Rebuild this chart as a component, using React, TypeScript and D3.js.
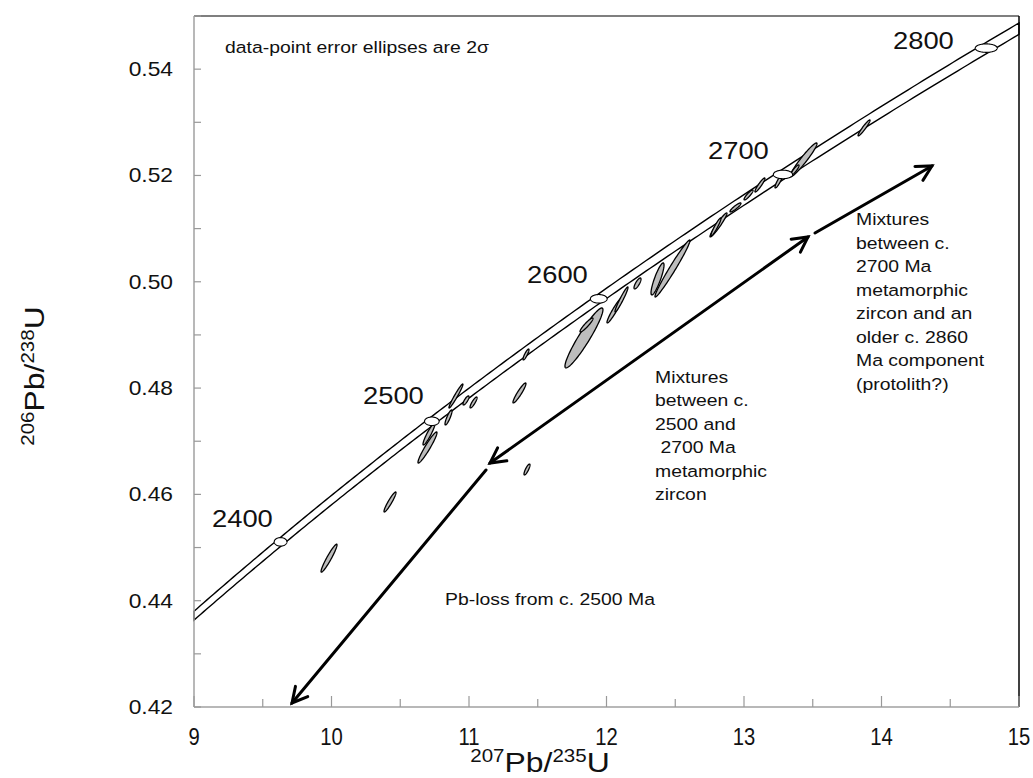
import React from 'react';
import * as d3 from 'd3';

const W = 1033;
const H = 778;

const xDomain = [9, 15];
const yDomain = [0.42, 0.55];
const xTickValues = [9, 10, 11, 12, 13, 14, 15];
const xMinorTickValues = [9.5, 10.5, 11.5, 12.5, 13.5, 14.5];
const yTickValues = [0.42, 0.44, 0.46, 0.48, 0.5, 0.52, 0.54];
const yMinorTickValues = [0.43, 0.45, 0.47, 0.49, 0.51, 0.53, 0.55];

// decay constants (per Ma)
const LAMBDA238 = 1.55125e-4;
const LAMBDA235 = 9.8485e-4;
const LAMBDA235_ERR = 0.0016;

const markerAges = [2400, 2500, 2600, 2700, 2800];

// data-point error ellipses (2 sigma)
const ellipseX = [9.982, 10.4255, 10.698, 10.709, 10.851, 10.905, 10.978, 11.033, 11.367, 11.4145, 11.4218,
  11.836, 11.8545, 12.058, 12.109, 12.2255, 12.371, 12.48,
  12.8145, 12.796, 12.938, 13.033, 13.116, 13.2545, 13.4327, 13.371, 13.873];
const ellipseY = [0.448, 0.45857, 0.46882, 0.47136, 0.47447, 0.47851, 0.47767, 0.47729, 0.47908, 0.48632, 0.46468,
  0.48943, 0.49187, 0.4946, 0.49667, 0.49968, 0.50053, 0.5025,
  0.51069, 0.51031, 0.51398, 0.51633, 0.51821, 0.51897, 0.52292, 0.52103, 0.52894];
const ellipseSigX = [0.058, 0.0436, 0.0691, 0.0436, 0.0255, 0.0509, 0.0218, 0.0255, 0.0473, 0.0218, 0.0218,
  0.1382, 0.0473, 0.0545, 0.0473, 0.0255, 0.0473, 0.1273,
  0.0618, 0.0364, 0.04, 0.0327, 0.0364, 0.0291, 0.0982, 0.0291, 0.0436];
const ellipseSigY = [0.00263, 0.00188, 0.00292, 0.00207, 0.00141, 0.00226, 0.00085, 0.00103, 0.00188, 0.00103, 0.00103,
  0.00564, 0.00132, 0.00235, 0.00235, 0.00103, 0.00301, 0.00536,
  0.00226, 0.00169, 0.00085, 0.00094, 0.00132, 0.00132, 0.0032, 0.00094, 0.0015];
const ellipseRho = [0.948, 0.937, 0.951, 0.925, 0.863, 0.969, 0.8, 0.861, 0.93, 0.87, 0.83,
  0.9395, 0.926, 0.95, 0.961, 0.79, 0.867, 0.98,
  0.958, 0.94, 0.9, 0.894, 0.93, 0.9, 0.959, 0.877, 0.95];

// arrows (data coordinates)
const arrowFromX = [11.1236, 11.1527, 13.516];
const arrowFromY = [0.46459, 0.4659, 0.50918];
const arrowToX = [9.7127, 13.4655, 14.367];
const arrowToY = [0.42075, 0.50843, 0.52179];
const arrowHeads = ['end', 'both', 'end'];

const noteLabel = 'data-point error ellipses are 2σ';
const mixText1 = ['Mixtures', 'between c.', '2500 and', '\u00a02700 Ma', 'metamorphic', 'zircon'];
const mixText2 = ['Mixtures', 'between c.', '2700 Ma', 'metamorphic', 'zircon and an', 'older c. 2860', 'Ma component', '(protolith?)'];
const pbLossText = 'Pb-loss from c. 2500 Ma';

const FONT = "'Liberation Sans', Arial, Helvetica, sans-serif";
const SX = 1.14;

const x = d3.scaleLinear().domain(xDomain).range([194, 1019]);
const y = d3.scaleLinear().domain(yDomain).range([707, 16]);

const line = d3.line<[number, number]>();

function ellipsePath(cx: number, cy: number, sx: number, sy: number, rho: number) {
  const r2 = Math.sqrt(1 - rho * rho);
  const pts: [number, number][] = d3.range(0, 97).map((i) => {
    const th = (i / 96) * Math.PI * 2;
    const dx = sx * Math.cos(th);
    const dy = sy * (rho * Math.cos(th) + r2 * Math.sin(th));
    return [x(cx + dx), y(cy + dy)];
  });
  return line(pts) + 'Z';
}

function edge(sign: number): [number, number][] {
  const l5 = LAMBDA235 * (1 + sign * LAMBDA235_ERR);
  const t0 = Math.log(1 + xDomain[0]) / l5;
  const t1 = Math.log(1 + xDomain[1]) / l5;
  return d3.range(0, 201).map((i) => {
    const t = t0 + ((t1 - t0) * i) / 200;
    return [x(Math.exp(l5 * t) - 1), y(Math.exp(LAMBDA238 * t) - 1)];
  });
}

function bandPath() {
  const up = edge(-1);
  const lo = edge(1).reverse();
  return line([...up, ...lo]) + 'Z';
}

function STxt({ x: px, y: py, size, children, anchor = 'start', sx = SX }: any) {
  return (
    <text
      transform={`translate(${px},${py}) scale(${sx},1)`}
      fontSize={size}
      fontFamily={FONT}
      textAnchor={anchor}
      fill="#111"
    >
      {children}
    </text>
  );
}

function Arrow({ i }: { i: number }) {
  const x0 = x(arrowFromX[i]);
  const y0 = y(arrowFromY[i]);
  const x1 = x(arrowToX[i]);
  const y1 = y(arrowToY[i]);
  const head = (px: number, py: number, qx: number, qy: number) => {
    const ang = Math.atan2(py - qy, px - qx);
    const L = 17;
    const a = (28 * Math.PI) / 180;
    const p1: [number, number] = [px - L * Math.cos(ang - a), py - L * Math.sin(ang - a)];
    const p2: [number, number] = [px - L * Math.cos(ang + a), py - L * Math.sin(ang + a)];
    return line([p1, [px, py], p2]) as string;
  };
  const h = arrowHeads[i];
  return (
    <g stroke="#000" strokeWidth={3} fill="none" strokeLinecap="round" strokeLinejoin="miter">
      <line x1={x0} y1={y0} x2={x1} y2={y1} />
      <path d={head(x1, y1, x0, y0)} />
      {h === 'both' && <path d={head(x0, y0, x1, y1)} />}
    </g>
  );
}

export default function App() {
  const markers = markerAges.map((t) => {
    const cx = Math.exp(LAMBDA235 * t) - 1;
    const cy = Math.exp(LAMBDA238 * t) - 1;
    const rel = LAMBDA235 * t * LAMBDA235_ERR * (1 + cx) / cx;
    return { t, cx, cy, rx: rel * cx * 1.15, ry: 0.0008 };
  });

  return (
    <svg width={W} height={H} style={{ position: 'absolute', left: 0, top: 0, background: '#fff' }}>
      <rect x={0} y={0} width={W} height={H} fill="#fff" />

      {/* concordia band */}
      <path d={bandPath()} fill="none" stroke="#000" strokeWidth={1.4} />

      {/* data ellipses */}
      {ellipseX.map((cx, i) => (
        <path
          key={'e' + i}
          d={ellipsePath(cx, ellipseY[i], ellipseSigX[i], ellipseSigY[i], ellipseRho[i])}
          fill="#bdbdbd"
          stroke="#000"
          strokeWidth={1.3}
        />
      ))}

      {/* age markers */}
      {markers.map((m) => (
        <path key={'m' + m.t} d={ellipsePath(m.cx, m.cy, m.rx, m.ry, 0)} fill="#fff" stroke="#000" strokeWidth={1.1} />
      ))}

      {/* arrows */}
      {arrowHeads.map((_, i) => (
        <Arrow key={'a' + i} i={i} />
      ))}

      {/* frame */}
      <line x1={x(9)} y1={y(0.55)} x2={x(15)} y2={y(0.55)} stroke="#555" strokeWidth={1.5} />
      <line x1={x(15)} y1={y(0.55)} x2={x(15)} y2={y(0.42)} stroke="#000" strokeWidth={1.5} />
      <line x1={x(9)} y1={y(0.55)} x2={x(9)} y2={y(0.42)} stroke="#a0a0a0" strokeWidth={1.5} />
      <line x1={x(9)} y1={y(0.42)} x2={x(15)} y2={y(0.42)} stroke="#a0a0a0" strokeWidth={1.5} />

      {/* ticks */}
      {[...yTickValues, ...yMinorTickValues].map((v) => (
        <line key={'yt' + v} x1={x(9)} x2={x(9) + 7} y1={y(v)} y2={y(v)} stroke="#999" strokeWidth={1.2} />
      ))}
      {xTickValues.map((v) => (
        <line key={'xt' + v} x1={x(v)} x2={x(v)} y1={y(0.42)} y2={y(0.42) - 11} stroke="#999" strokeWidth={1.2} />
      ))}
      {xMinorTickValues.map((v) => (
        <line key={'xm' + v} x1={x(v)} x2={x(v)} y1={y(0.42)} y2={y(0.42) - 8} stroke="#999" strokeWidth={1.2} />
      ))}

      {/* tick labels */}
      {yTickValues.map((v) => (
        <STxt key={'yl' + v} x={173} y={y(v) + 7} size={20} anchor="end">
          {d3.format('.2f')(v)}
        </STxt>
      ))}
      {xTickValues.map((v) => (
        <STxt key={'xl' + v} x={x(v)} y={745} size={23} anchor="middle" sx={0.88}>
          {String(v)}
        </STxt>
      ))}

      {/* axis titles */}
      <text transform={`translate(540,772) scale(${SX},1)`} fontFamily={FONT} fontSize={28} textAnchor="middle" fill="#111">
        <tspan fontSize={18} dy={-10}>207</tspan>
        <tspan dy={10}>Pb/</tspan>
        <tspan fontSize={18} dy={-10}>235</tspan>
        <tspan dy={10}>U</tspan>
      </text>
      <text transform={`translate(44,376) rotate(-90) scale(${SX},1)`} fontFamily={FONT} fontSize={28} textAnchor="middle" fill="#111">
        <tspan fontSize={18} dy={-10}>206</tspan>
        <tspan dy={10}>Pb/</tspan>
        <tspan fontSize={18} dy={-10}>238</tspan>
        <tspan dy={10}>U</tspan>
      </text>

      {/* annotations */}
      <STxt x={225} y={53} size={17}>{noteLabel}</STxt>
      <STxt x={212} y={527} size={24}>2400</STxt>
      <STxt x={363} y={404} size={24}>2500</STxt>
      <STxt x={527} y={283} size={24}>2600</STxt>
      <STxt x={708} y={159} size={24}>2700</STxt>
      <STxt x={893} y={49} size={24}>2800</STxt>

      {mixText1.map((s, i) => (
        <STxt key={'m1' + i} x={655} y={383 + i * 23.4} size={17}>{s}</STxt>
      ))}
      {mixText2.map((s, i) => (
        <STxt key={'m2' + i} x={856} y={225 + i * 23.5} size={17}>{s}</STxt>
      ))}
      <STxt x={445} y={605} size={17}>{pbLossText}</STxt>
    </svg>
  );
}
